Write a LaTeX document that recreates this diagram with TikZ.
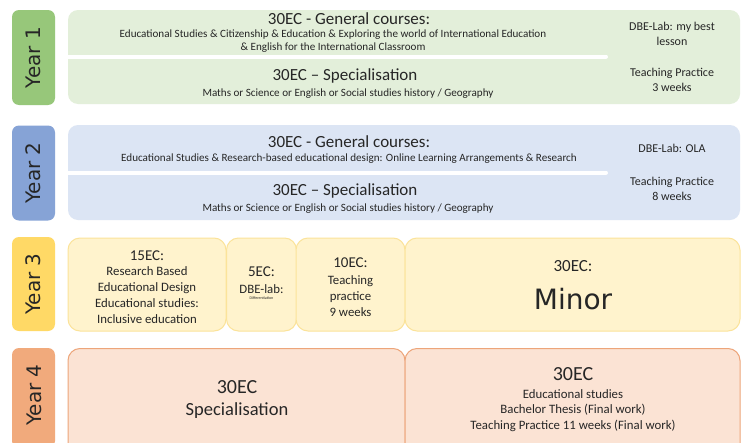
\documentclass[tikz,border=0pt]{standalone}
\usepackage{fontspec}
\setmainfont{Carlito}
\newfontfamily\dejavu{DejaVu Sans}
\definecolor{txt}{HTML}{262626}
\definecolor{gtab}{HTML}{97C77A}
\definecolor{gfill}{HTML}{E3EFDA}
\definecolor{btab}{HTML}{86A3D6}
\definecolor{bfill}{HTML}{DCE5F4}
\definecolor{ytab}{HTML}{FFD966}
\definecolor{yfill}{HTML}{FFF3CD}
\definecolor{yline}{HTML}{FBE39A}
\definecolor{otab}{HTML}{F1AA7C}
\definecolor{ofill}{HTML}{FBE3D4}
\definecolor{oline}{HTML}{EDA57A}
\tikzset{
  tab/.style={rounded corners=7pt, inner sep=0pt},
  blk/.style={rounded corners=10pt, inner sep=0pt},
  yearlbl/.style={font=\dejavu\fontsize{20}{20}\selectfont, text=txt, rotate=90, inner sep=0pt},
  head/.style={font=\fontsize{17}{17}\selectfont, text=txt, inner sep=0pt},
  sub/.style={font=\fontsize{11.1}{12.5}\selectfont, text=txt, inner sep=0pt, align=center},
  side/.style={font=\fontsize{12}{15.5}\selectfont, text=txt, inner sep=0pt, align=center},
  ybox/.style={rounded corners=12pt, fill=yfill, draw=yline, line width=1pt, inner sep=0pt},
  obox/.style={rounded corners=12pt, fill=ofill, draw=oline, line width=1pt, inner sep=0pt},
  mid/.style={font=\fontsize{12.8}{15.8}\selectfont, text=txt, inner sep=0pt, align=center},
  sep/.style={white, line width=4pt, line cap=round}
}
\begin{document}
\begin{tikzpicture}[x=1pt,y=-1pt]
\useasboundingbox (0,0) rectangle (750,442);
\clip (0,0) rectangle (750,442);
\fill[white] (0,0) rectangle (750,442);
% ---------- Year 1 ----------
\node[tab, fill=gtab, minimum width=43pt, minimum height=95pt] (t1) at (33.5,57.5) {};
\node[yearlbl] (l1) at (t1.center) {Year 1};
\node[blk, fill=gfill, minimum width=672pt, minimum height=94pt] (b1) at (404,57) {};
\coordinate (s1a) at (64,56.5);
\coordinate (s1b) at (606,56.5);
\draw[sep] (s1a) -- (s1b);
\node[head] (h1) at (349,19) {30EC - General courses:};
\node[sub] (d1) at (333,41) {Educational Studies \& Citizenship \& Education \& Exploring the world of International Education\\\& English for the International Classroom};
\node[head] (h1b) at (345,76) {30EC -- Specialisation};
\node[sub] (d1b) at (348,93.5) {Maths or Science or English or Social studies history / Geography};
\node[side] (r1a) at (672,34) {DBE-Lab: my best\\lesson};
\node[side] (r1b) at (672,80) {Teaching Practice\\3 weeks};
% ---------- Year 2 ----------
\node[tab, fill=btab, minimum width=43pt, minimum height=95pt] (t2) at (33.5,173) {};
\node[yearlbl] (l2) at (t2.center) {Year 2};
\node[blk, fill=bfill, minimum width=672pt, minimum height=95pt] (b2) at (404,172.5) {};
\coordinate (s2a) at (64,172.5);
\coordinate (s2b) at (606,172.5);
\draw[sep] (s2a) -- (s2b);
\node[head] (h2) at (349,142) {30EC - General courses:};
\node[sub] (d2) at (349,158.5) {Educational Studies \& Research-based educational design: Online Learning Arrangements \& Research};
\node[head] (h2b) at (345,191) {30EC -- Specialisation};
\node[sub] (d2b) at (348,208.5) {Maths or Science or English or Social studies history / Geography};
\node[side] (r2a) at (672,148) {DBE-Lab: OLA};
\node[side] (r2b) at (672,189) {Teaching Practice\\8 weeks};
% ---------- Year 3 ----------
\node[tab, fill=ytab, minimum width=43pt, minimum height=94pt] (t3) at (33.5,284) {};
\node[yearlbl] (l3) at (t3.center) {Year 3};
\node[ybox, minimum width=158pt, minimum height=93pt] (y3a) at (147,284.5) {};
\node[ybox, minimum width=70pt, minimum height=93pt] (y3b) at (261.5,284.5) {};
\node[ybox, minimum width=109pt, minimum height=93pt] (y3c) at (350.5,284.5) {};
\node[ybox, minimum width=335pt, minimum height=93pt] (y3d) at (572.5,284.5) {};
\node[font=\fontsize{15}{15}\selectfont, text=txt, inner sep=0pt] (e15) at (147,255.5) {15EC:};
\node[mid] (e15t) at (147,295) {Research Based\\Educational Design\\Educational studies:\\Inclusive education};
\node[font=\fontsize{15}{15}\selectfont, text=txt, inner sep=0pt] (e5) at (261.5,272) {5EC:};
\node[mid] (e5t) at (261.5,289.5) {DBE-lab:};
\node[font=\fontsize{4}{4}\selectfont, text=txt, inner sep=0pt] (e5d) at (261.5,298.5) {Differentiation};
\node[font=\fontsize{15}{15}\selectfont, text=txt, inner sep=0pt] (e10) at (350.5,263) {10EC:};
\node[mid] (e10t) at (350.5,296) {Teaching\\practice\\9 weeks};
\node[font=\fontsize{17}{17}\selectfont, text=txt, inner sep=0pt] (e30) at (573,266.5) {30EC:};
\node[font=\dejavu\fontsize{28}{28}\selectfont, text=txt, inner sep=0pt] (minor) at (573,299) {Minor};
% ---------- Year 4 ----------
\node[tab, fill=otab, minimum width=43pt, minimum height=100pt] (t4) at (33.5,398) {};
\node[yearlbl] (l4) at (34,395) {Year 4};
\node[obox, minimum width=337pt, minimum height=110pt] (y4a) at (236.5,403.5) {};
\node[obox, minimum width=335pt, minimum height=110pt] (y4b) at (572.5,403.5) {};
\node[font=\fontsize{20}{20}\selectfont, text=txt, inner sep=0pt] (f4a) at (237,387) {30EC};
\node[font=\fontsize{18.5}{18.5}\selectfont, text=txt, inner sep=0pt] (f4b) at (237,411) {Specialisation};
\node[font=\fontsize{20}{20}\selectfont, text=txt, inner sep=0pt] (f4c) at (573,374) {30EC};
\node[font=\fontsize{12.8}{15.5}\selectfont, text=txt, inner sep=0pt, align=center] (f4d) at (573,410.5) {Educational studies\\Bachelor Thesis (Final work)\\Teaching Practice 11 weeks (Final work)};
\end{tikzpicture}
\end{document}
